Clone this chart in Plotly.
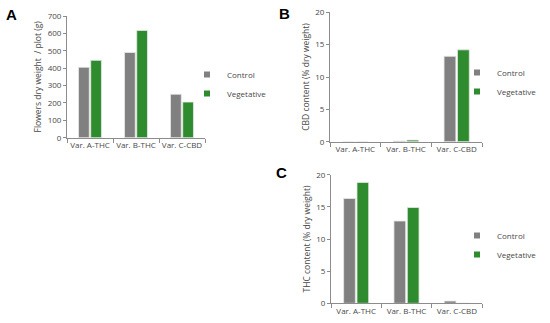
import plotly.graph_objects as go

categories = ["Var. A-THC", "Var. B-THC", "Var. C-CBD"]
series_names = ["Control", "Vegetative"]
colors = ["#808080", "#2e8b2e"]

weight_control = [405, 490, 250]
weight_veg = [445, 617, 205]
cbd_control = [0.0, 0.1, 13.2]
cbd_veg = [0.0, 0.25, 14.2]
thc_control = [16.3, 12.8, 0.35]
thc_veg = [18.8, 14.9, 0.0]

W, H = 550, 323
FONT = "Open Sans"
TXT = "#484848"

fig = go.Figure()

panels = [
    ("x", "y", "legend", [weight_control, weight_veg]),
    ("x2", "y2", "legend2", [cbd_control, cbd_veg]),
    ("x3", "y3", "legend3", [thc_control, thc_veg]),
]
for xa, ya, lg, vals in panels:
    for name, col, v in zip(series_names, colors, vals):
        fig.add_trace(go.Bar(x=categories, y=v, name=name, xaxis=xa, yaxis=ya,
                             marker=dict(color=col, line=dict(color="#e8e8e8", width=0.8)),
                             showlegend=False))
        fig.add_trace(go.Scatter(x=[None], y=[None], mode="markers", name=name,
                                 xaxis=xa, yaxis=ya, legend=lg,
                                 marker=dict(symbol="square", size=6, color=col)))

def px_x(p):
    return p / W

def px_y(p):
    return 1 - p / H

axis_common = dict(showline=True, linecolor="#8c8c8c", linewidth=1, zeroline=False,
                   showgrid=False, tickfont=dict(family=FONT, size=8, color=TXT))

xcommon = dict(axis_common, type="category", tickson="boundaries", ticks="outside",
               ticklen=4, tickcolor="#8c8c8c", tickangle=0, automargin=False)
ycommon = dict(axis_common, ticks="outside", ticklen=3, tickcolor="#8c8c8c", automargin=False)

legcommon = dict(xanchor="left", yanchor="top", bgcolor="rgba(0,0,0,0)",
                 font=dict(family=FONT, size=8, color=TXT), tracegroupgap=0)

fig.update_layout(
    width=W, height=H, margin=dict(l=0, r=0, t=0, b=0, autoexpand=False),
    paper_bgcolor="white", plot_bgcolor="white",
    bargap=0.47, bargroupgap=0.12, barmode="group",
    font=dict(family=FONT, size=8, color=TXT),
    xaxis=dict(xcommon, domain=[px_x(67), px_x(205)], anchor="y"),
    yaxis=dict(ycommon, domain=[px_y(137.7), px_y(16)], anchor="x", range=[0, 700], dtick=100,
               title=dict(text="Flowers dry weight  / plot (g)", font=dict(family=FONT, size=8.5, color=TXT), standoff=4)),
    xaxis2=dict(xcommon, domain=[px_x(330), px_x(482)], anchor="y2"),
    yaxis2=dict(ycommon, domain=[px_y(141.7), px_y(12.3)], anchor="x2", range=[0, 20], dtick=5,
                title=dict(text="CBD content (% dry weight)", font=dict(family=FONT, size=8.5, color=TXT), standoff=4)),
    xaxis3=dict(xcommon, domain=[px_x(331), px_x(482)], anchor="y3"),
    yaxis3=dict(ycommon, domain=[px_y(303.3), px_y(174.7)], anchor="x3", range=[0, 20], dtick=5,
                title=dict(text="THC content (% dry weight)", font=dict(family=FONT, size=8.5, color=TXT), standoff=4)),
    legend=dict(legcommon, x=px_x(187), y=px_y(60)),
    legend2=dict(legcommon, x=px_x(457), y=px_y(58)),
    legend3=dict(legcommon, x=px_x(457), y=px_y(221)),
)

for label, x, y in [("A", 11, 15), ("B", 284, 13), ("C", 281, 172)]:
    fig.add_annotation(text="<b>%s</b>" % label, x=px_x(x), y=px_y(y), xref="paper", yref="paper",
                       showarrow=False, xanchor="center", yanchor="middle",
                       font=dict(family="Liberation Sans", size=15, color="black"))

fig.write_html("out.html", config={"displayModeBar": False},
               post_script="document.body.style.margin='0';")
